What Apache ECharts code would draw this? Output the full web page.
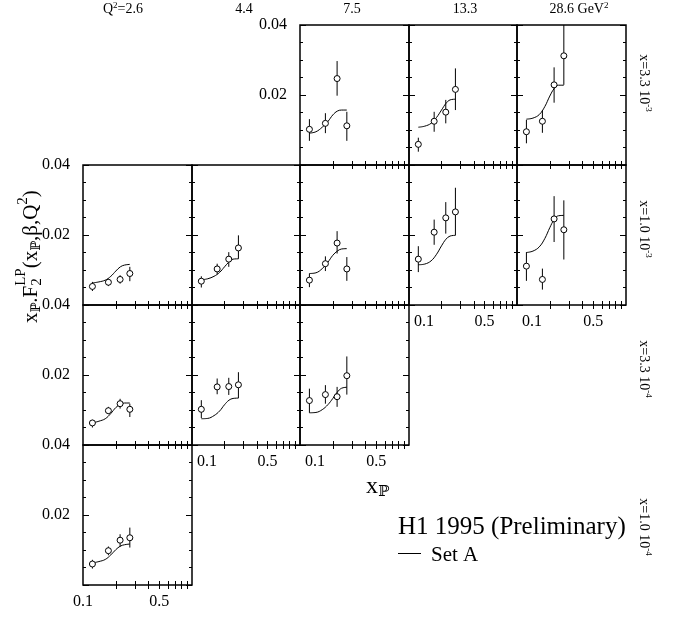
<!DOCTYPE html>
<html><head><meta charset="utf-8">
<script src="https://cdn.jsdelivr.net/npm/echarts@6/dist/echarts.min.js"></script>
<style>html,body{margin:0;padding:0;background:#fff}#c{width:682px;height:619px}</style>
</head><body><div id="c"></div>
<script>
// ---------- labels ----------
const q2Labels = ['Q{s|2}=2.6', '4.4', '7.5', '13.3', '28.6 GeV{s|2}'];
const xBinLabels = ['x=3.3 10{s|-3}', 'x=1.0 10{s|-3}', 'x=3.3 10{s|-4}', 'x=1.0 10{s|-4}'];
const xTickLabels = [0.1, 0.5];
const xMinorTicks = [0.2, 0.3, 0.4, 0.5, 0.6, 0.7, 0.8, 0.9];
const yTickLabels = [0.02, 0.04];

// ---------- data ----------
const xPoints = [0.122, 0.171, 0.219, 0.269];
const curveX = [0.122, 0.14, 0.16, 0.18, 0.2, 0.22, 0.24, 0.269];

// x = 3.3e-3
const r0c2_y  = [0.0102, 0.0119, 0.0247, 0.0112];
const r0c2_lo = [0.0069, 0.0091, 0.0198, 0.0069];
const r0c2_hi = [0.0131, 0.0148, 0.0297, 0.0152];
const r0c2_fit = [0.0091, 0.0095, 0.0108, 0.0124, 0.0143, 0.0154, 0.0157, 0.0157];
const r0c3_y  = [0.0059, 0.0125, 0.0151, 0.0216];
const r0c3_lo = [0.0038, 0.0095, 0.0119, 0.0157];
const r0c3_hi = [0.0078, 0.0152, 0.0186, 0.0276];
const r0c3_fit = [0.0108, 0.0111, 0.0119, 0.0136, 0.0157, 0.0176, 0.0186, 0.0188];
const r0c4_y  = [0.0095, 0.0125, 0.0229, 0.0312];
const r0c4_lo = [0.0062, 0.0092, 0.0178, 0.0229];
const r0c4_hi = [0.0129, 0.0157, 0.0279, 0.0410];
const r0c4_fit = [0.0131, 0.0134, 0.0144, 0.0167, 0.0197, 0.0219, 0.0228, 0.0228];
// x = 1.0e-3
const r1c0_y  = [0.0053, 0.0065, 0.0073, 0.0090];
const r1c0_lo = [0.0040, 0.0054, 0.0061, 0.0068];
const r1c0_hi = [0.0066, 0.0075, 0.0085, 0.0109];
const r1c0_fit = [0.0063, 0.0066, 0.0071, 0.0082, 0.0097, 0.0109, 0.0114, 0.0116];
const r1c1_y  = [0.0068, 0.0103, 0.0131, 0.0163];
const r1c1_lo = [0.0050, 0.0088, 0.0109, 0.0132];
const r1c1_hi = [0.0082, 0.0118, 0.0151, 0.0199];
const r1c1_fit = [0.0072, 0.0075, 0.0082, 0.0093, 0.0109, 0.0123, 0.0131, 0.0132];
const r1c2_y  = [0.0071, 0.0118, 0.0177, 0.0103];
const r1c2_lo = [0.0051, 0.0097, 0.0147, 0.0069];
const r1c2_hi = [0.0090, 0.0139, 0.0211, 0.0137];
const r1c2_fit = [0.0090, 0.0092, 0.0104, 0.0122, 0.0142, 0.0154, 0.0160, 0.0161];
const r1c3_y  = [0.0131, 0.0208, 0.0249, 0.0266];
const r1c3_lo = [0.0094, 0.0172, 0.0204, 0.0199];
const r1c3_hi = [0.0168, 0.0244, 0.0294, 0.0335];
const r1c3_fit = [0.0115, 0.0117, 0.0126, 0.0145, 0.0169, 0.0188, 0.0197, 0.0199];
const r1c4_y  = [0.0111, 0.0073, 0.0246, 0.0215];
const r1c4_lo = [0.0069, 0.0044, 0.0180, 0.0130];
const r1c4_hi = [0.0151, 0.0104, 0.0311, 0.0299];
const r1c4_fit = [0.0150, 0.0154, 0.0166, 0.0190, 0.0221, 0.0245, 0.0255, 0.0256];
// x = 3.3e-4
const r2c0_y  = [0.0063, 0.0098, 0.0118, 0.0102];
const r2c0_lo = [0.0050, 0.0088, 0.0104, 0.0080];
const r2c0_hi = [0.0072, 0.0109, 0.0132, 0.0118];
const r2c0_fit = [0.0063, 0.0068, 0.0075, 0.0090, 0.0107, 0.0116, 0.0120, 0.0120];
const r2c1_y  = [0.0102, 0.0166, 0.0167, 0.0172];
const r2c1_lo = [0.0077, 0.0145, 0.0143, 0.0134];
const r2c1_hi = [0.0128, 0.0190, 0.0192, 0.0208];
const r2c1_fit = [0.0075, 0.0076, 0.0084, 0.0097, 0.0115, 0.0128, 0.0133, 0.0134];
const r2c2_y  = [0.0127, 0.0144, 0.0138, 0.0198];
const r2c2_lo = [0.0092, 0.0118, 0.0109, 0.0144];
const r2c2_hi = [0.0161, 0.0171, 0.0166, 0.0253];
const r2c2_fit = [0.0092, 0.0093, 0.0101, 0.0115, 0.0133, 0.0151, 0.0162, 0.0165];
// x = 1.0e-4
const r3c0_y  = [0.0060, 0.0098, 0.0128, 0.0135];
const r3c0_lo = [0.0047, 0.0085, 0.0109, 0.0107];
const r3c0_hi = [0.0072, 0.0110, 0.0145, 0.0164];
const r3c0_fit = [0.0063, 0.0067, 0.0073, 0.0086, 0.0101, 0.0111, 0.0115, 0.0117];

// ---------- layout ----------
const colLeft = [83, 192, 300, 409, 517, 626];
const rowTop = [25, 165, 305, 445];
const rowH = 140;
const FONT = 'Liberation Serif';

const panels = [
  {r:0,c:2,y:r0c2_y,lo:r0c2_lo,hi:r0c2_hi,fit:r0c2_fit,yl:true, xl:false},
  {r:0,c:3,y:r0c3_y,lo:r0c3_lo,hi:r0c3_hi,fit:r0c3_fit,yl:false,xl:false},
  {r:0,c:4,y:r0c4_y,lo:r0c4_lo,hi:r0c4_hi,fit:r0c4_fit,yl:false,xl:false},
  {r:1,c:0,y:r1c0_y,lo:r1c0_lo,hi:r1c0_hi,fit:r1c0_fit,yl:true, xl:false},
  {r:1,c:1,y:r1c1_y,lo:r1c1_lo,hi:r1c1_hi,fit:r1c1_fit,yl:false,xl:false},
  {r:1,c:2,y:r1c2_y,lo:r1c2_lo,hi:r1c2_hi,fit:r1c2_fit,yl:false,xl:false},
  {r:1,c:3,y:r1c3_y,lo:r1c3_lo,hi:r1c3_hi,fit:r1c3_fit,yl:false,xl:true},
  {r:1,c:4,y:r1c4_y,lo:r1c4_lo,hi:r1c4_hi,fit:r1c4_fit,yl:false,xl:true},
  {r:2,c:0,y:r2c0_y,lo:r2c0_lo,hi:r2c0_hi,fit:r2c0_fit,yl:true, xl:false},
  {r:2,c:1,y:r2c1_y,lo:r2c1_lo,hi:r2c1_hi,fit:r2c1_fit,yl:false,xl:true},
  {r:2,c:2,y:r2c2_y,lo:r2c2_lo,hi:r2c2_hi,fit:r2c2_fit,yl:false,xl:true},
  {r:3,c:0,y:r3c0_y,lo:r3c0_lo,hi:r3c0_hi,fit:r3c0_fit,yl:true, xl:true}
];

const grid = [], xAxis = [], yAxis = [], series = [];
panels.forEach((p, i) => {
  grid.push({left: colLeft[p.c], top: rowTop[p.r], width: colLeft[p.c+1]-colLeft[p.c], height: rowH,
    show: true, borderColor: '#000', borderWidth: 1.5, backgroundColor: 'transparent'});
  const shift = p.c !== 0;
  [ 'bottom', 'top' ].forEach(pos => {
    xAxis.push({type: 'log', gridIndex: i, position: pos, min: 0.1, max: 1, logBase: 10,
      axisLine: {show: false}, splitLine: {show: false},
      axisTick: {show: true, inside: true, length: 4, lineStyle: {color: '#000', width: 1}, customValues: xMinorTicks},
      axisLabel: {show: pos === 'bottom' && p.xl, customValues: xTickLabels, margin: 9,
        color: '#000', fontFamily: FONT, fontSize: 16, showMinLabel: true, showMaxLabel: true, hideOverlap: false,
        formatter: v => (v < 0.15 ? (shift ? '{s|0.1}' : '0.1') : '0.5'),
        rich: {s: {padding: [0, 0, 0, 30], fontFamily: FONT, fontSize: 16, color: '#000'}}}
    });
  });
  [ 'left', 'right' ].forEach(pos => {
    yAxis.push({type: 'value', gridIndex: i, position: pos, min: 0, max: 0.04, interval: 0.02,
      axisLine: {show: false}, splitLine: {show: false},
      axisTick: {show: true, inside: true, length: 6, lineStyle: {color: '#000', width: 1}},
      minorTick: {show: true, splitNumber: 4, length: 3, lineStyle: {color: '#000', width: 1}},
      axisLabel: {show: pos === 'left' && p.yl, margin: 13, color: '#000', fontFamily: FONT, fontSize: 16,
        formatter: v => (yTickLabels.some(t => Math.abs(t - v) < 1e-9) ? v.toFixed(2) : '')}
    });
  });
  const xi = 2*i, yi = 2*i;
  series.push({type: 'custom', xAxisIndex: xi, yAxisIndex: yi, clip: true, z: 2,
    data: xPoints.map((x, k) => [x, p.lo[k], p.hi[k]]),
    renderItem: (params, api) => {
      const a = api.coord([api.value(0), api.value(1)]);
      const b = api.coord([api.value(0), api.value(2)]);
      return {type: 'line', shape: {x1: a[0], y1: a[1], x2: b[0], y2: b[1]}, style: {stroke: '#000', lineWidth: 1}};
    }});
  series.push({type: 'line', xAxisIndex: xi, yAxisIndex: yi, smooth: 0.4, showSymbol: false, z: 3,
    data: curveX.map((x, k) => [x, p.fit[k]]), lineStyle: {color: '#000', width: 1}, silent: true});
  series.push({type: 'scatter', xAxisIndex: xi, yAxisIndex: yi, z: 4, symbol: 'circle', symbolSize: 6,
    data: xPoints.map((x, k) => [x, p.y[k]]),
    itemStyle: {color: '#fff', borderColor: '#000', borderWidth: 1, opacity: 1}});
});

const q2X = [123, 244, 352, 465, 579];
const binY = [83, 229, 369, 527];
const graphic = [];
q2Labels.forEach((t, i) => graphic.push({type: 'text', x: q2X[i], y: 9,
  style: {text: t, align: 'center', verticalAlign: 'middle', fill: '#000', font: '14px ' + FONT,
    rich: {s: {fontSize: 9, fontFamily: FONT, verticalAlign: 'top', lineHeight: 16}}}}));
xBinLabels.forEach((t, i) => graphic.push({type: 'text', x: 644, y: binY[i], rotation: -Math.PI/2,
  style: {text: t, align: 'center', verticalAlign: 'middle', fill: '#000', font: '14px ' + FONT,
    rich: {s: {fontSize: 9, fontFamily: FONT, verticalAlign: 'top', lineHeight: 18}}}}));

// y-axis title, built piece by piece so that "LP" sits above the subscript "2"
const mctx = document.createElement('canvas').getContext('2d');
const tw = (s, f) => { mctx.font = f; return mctx.measureText(s).width; };
const fB = '21px "' + FONT + '"', fP = '13px "DejaVu Serif"', fS = '15px "' + FONT + '"';
const pieces = [
  {t: 'x', f: fB, dy: 0}, {t: 'ℙ', f: fP, dy: 6}, {t: '.F', f: fB, dy: 0},
  {t: '2', f: fS, dy: 6, stack: 'LP'}, {t: '(x', f: fB, dy: 0}, {t: 'ℙ', f: fP, dy: 6},
  {t: ',β,Q', f: fB, dy: 0}, {t: '2', f: fS, dy: -8}, {t: ')', f: fB, dy: 0}
];
const titleKids = [];
let cx = 0;
pieces.forEach(pc => {
  titleKids.push({type: 'text', x: cx, y: pc.dy, style: {text: pc.t, font: pc.f, fill: '#000', align: 'left', verticalAlign: 'middle'}});
  let w = tw(pc.t, pc.f);
  if (pc.stack) {
    titleKids.push({type: 'text', x: cx, y: -10, style: {text: pc.stack, font: fS, fill: '#000', align: 'left', verticalAlign: 'middle'}});
    w = Math.max(w, tw(pc.stack, fS));
  }
  cx += w;
});
graphic.push({type: 'group', x: 31, y: 323, rotation: Math.PI/2, children: titleKids});

graphic.push({type: 'text', x: 366, y: 487,
  style: {text: '{b|x}{p|ℙ}', align: 'left', verticalAlign: 'middle', fill: '#000',
    rich: {
      b: {fontFamily: FONT, fontSize: 24, lineHeight: 30, verticalAlign: 'middle'},
      p: {fontFamily: 'DejaVu Serif', fontSize: 15, lineHeight: 15, verticalAlign: 'bottom', padding: [0,0,2,0]}
    }}});
graphic.push({type: 'text', x: 398, y: 527,
  style: {text: 'H1 1995 (Preliminary)', align: 'left', verticalAlign: 'middle', fill: '#000', font: '25px ' + FONT}});
graphic.push({type: 'line', shape: {x1: 398, y1: 553.5, x2: 421, y2: 553.5}, style: {stroke: '#000', lineWidth: 1}});
graphic.push({type: 'text', x: 431, y: 555,
  style: {text: 'Set A', align: 'left', verticalAlign: 'middle', fill: '#000', font: '21px ' + FONT}});

const chart = echarts.init(document.getElementById('c'), null, {renderer: 'canvas'});
chart.setOption({animation: false, backgroundColor: '#fff', grid, xAxis, yAxis, series, graphic});
</script></body></html>
